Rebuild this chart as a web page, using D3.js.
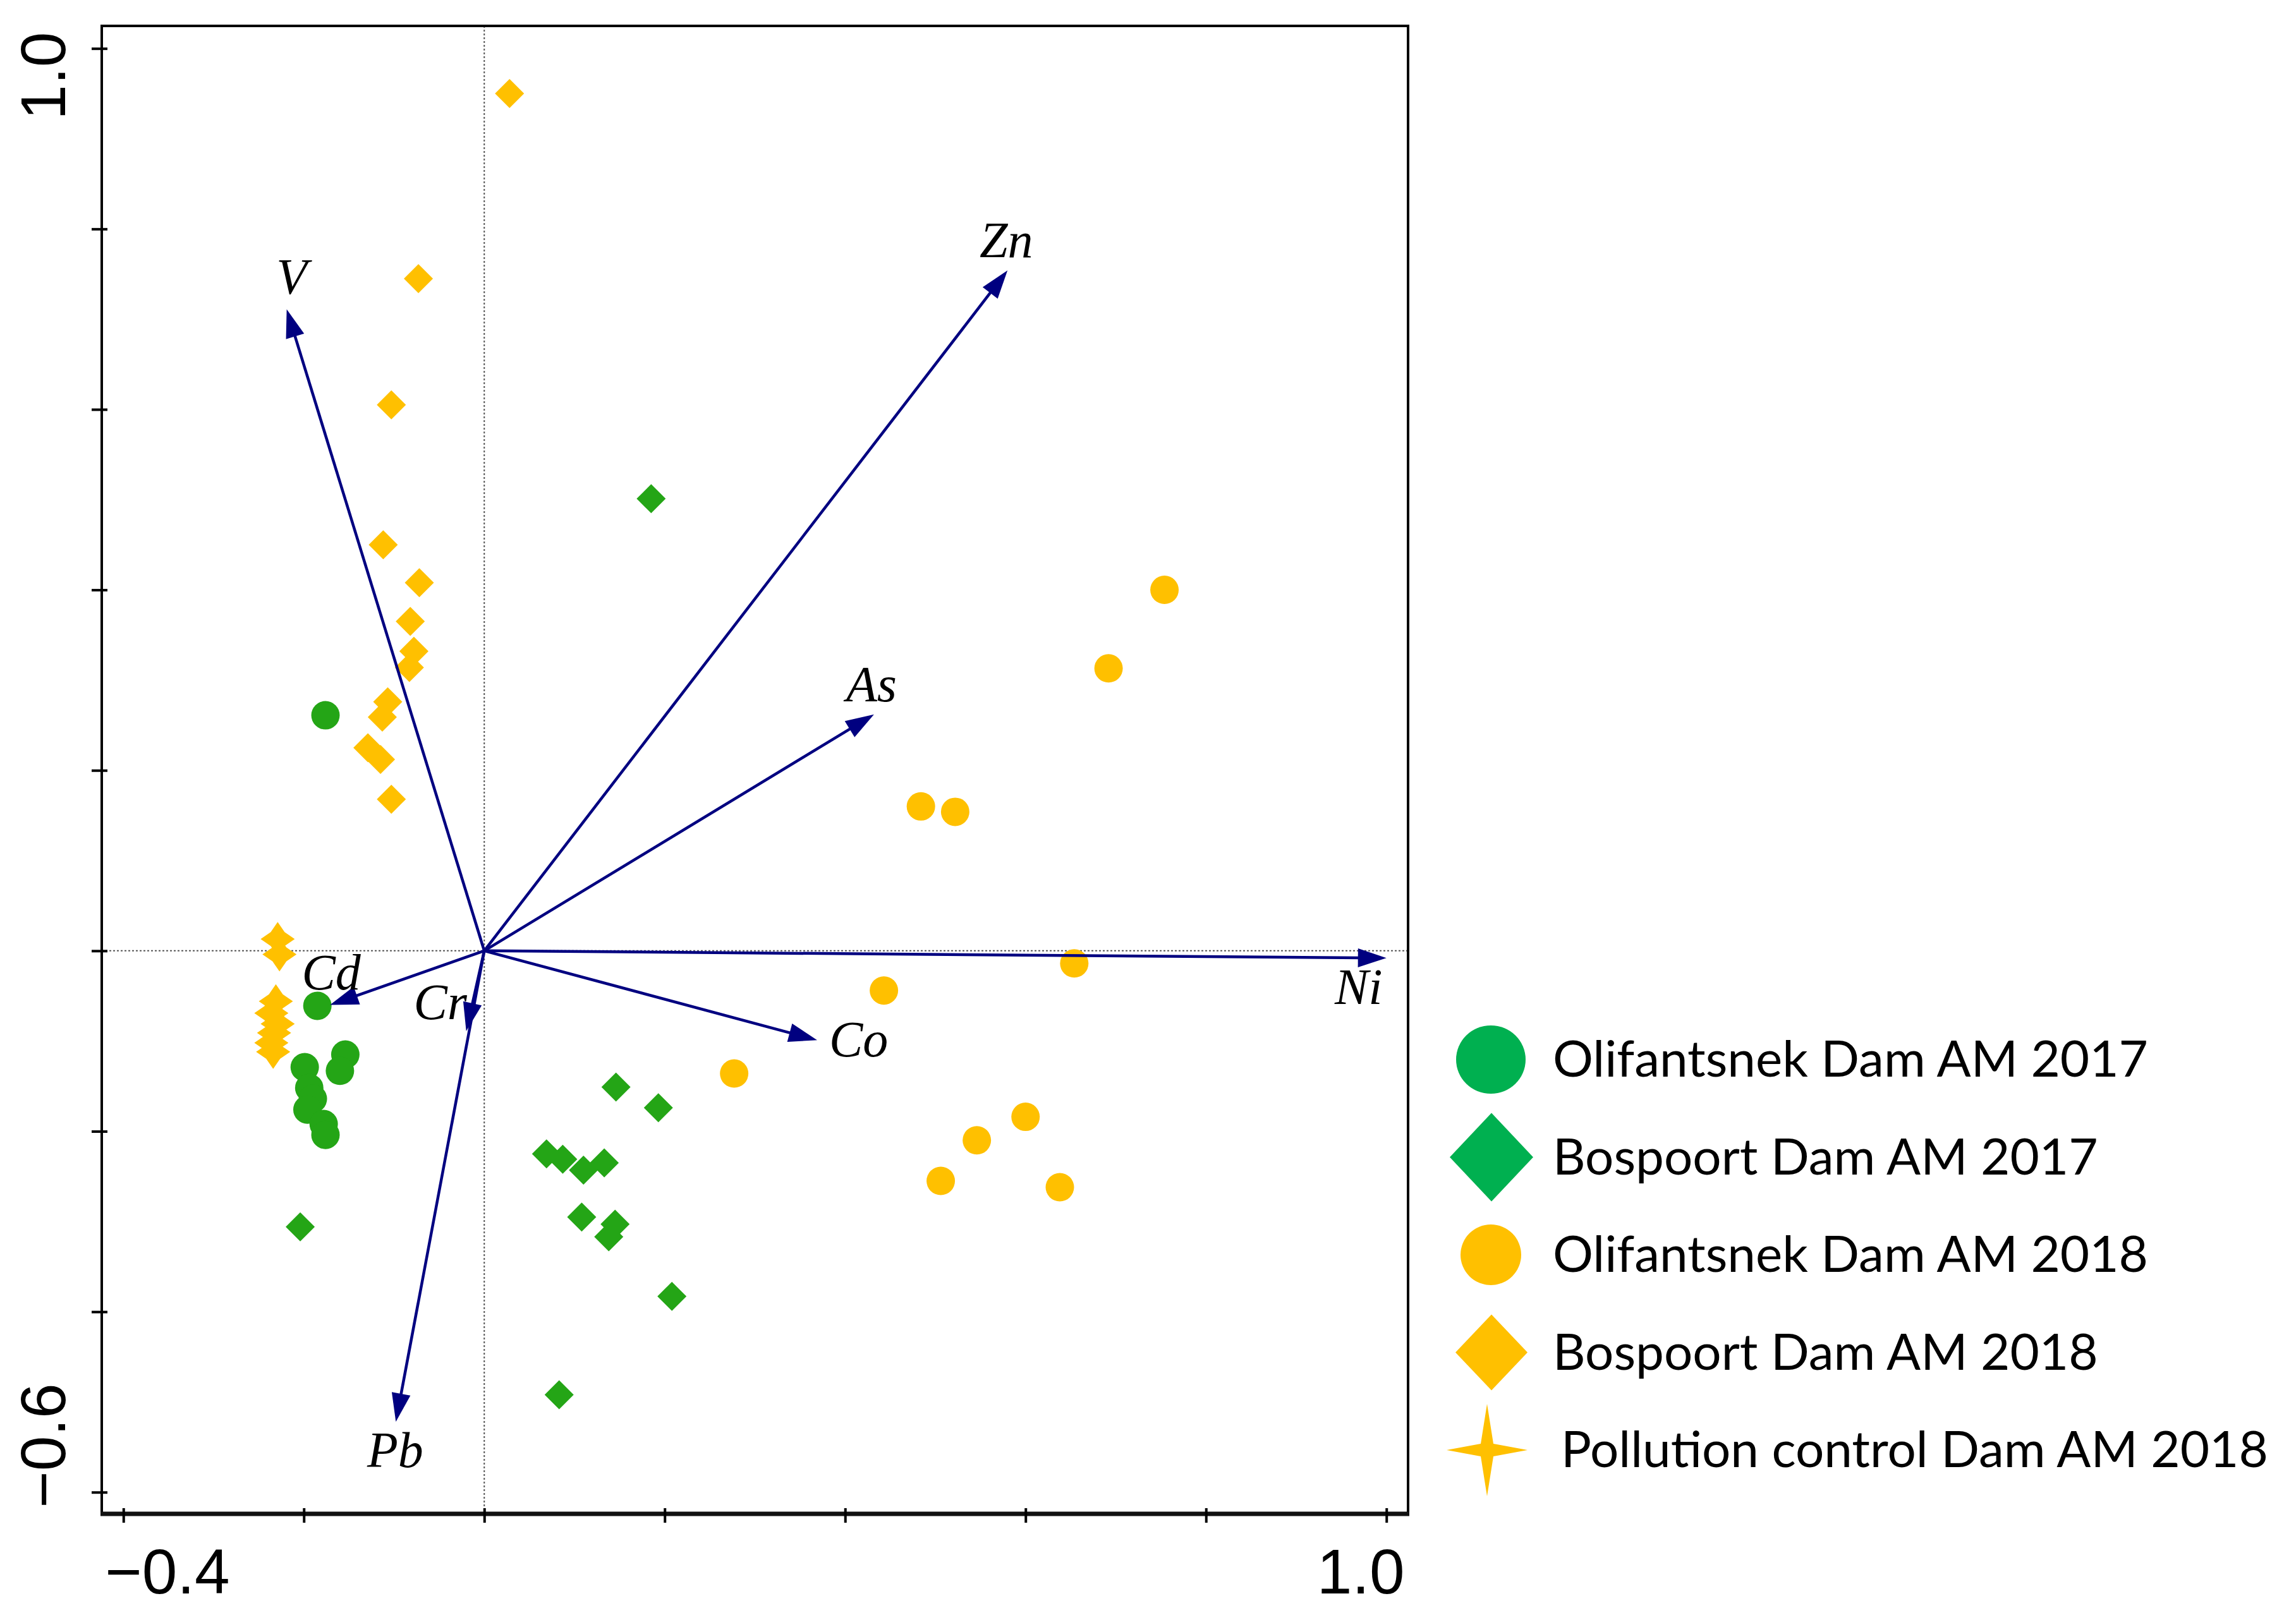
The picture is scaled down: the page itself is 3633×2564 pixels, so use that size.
<!DOCTYPE html>
<html>
<head>
<meta charset="utf-8">
<script src="https://cdn.jsdelivr.net/npm/d3@7"></script>
<style>
  body { margin: 0; background: #fff; }
  svg { display: block; }
</style>
</head>
<body>
<svg id="chart"></svg>
<script>
// ---- data ----
const groupNames = [
    "Olifantsnek Dam AM 2017",
    "Bospoort Dam AM 2017",
    "Olifantsnek Dam AM 2018",
    "Bospoort Dam AM 2018",
    "Pollution control Dam AM 2018",
];

const olifantsnek2017 = [
    [-0.176, 0.261], [-0.185, -0.061], [-0.199, -0.129], [-0.194, -0.152],
    [-0.190, -0.164], [-0.196, -0.176], [-0.178, -0.192], [-0.176, -0.204],
    [-0.154, -0.115], [-0.160, -0.133],
];
const bospoort2017 = [
    [0.185, 0.501], [0.146, -0.151], [0.193, -0.174], [0.069, -0.225],
    [0.087, -0.231], [0.110, -0.243], [0.133, -0.235], [0.108, -0.295],
    [0.145, -0.303], [0.138, -0.317], [0.208, -0.383], [-0.204, -0.306],
    [0.083, -0.492],
];
const olifantsnek2018 = [
    [0.754, 0.400], [0.692, 0.313], [0.484, 0.160], [0.522, 0.154],
    [0.654, -0.014], [0.443, -0.044], [0.277, -0.136], [0.600, -0.184],
    [0.546, -0.210], [0.506, -0.255], [0.638, -0.262],
];
const bospoort2018 = [
    [0.028, 0.950], [-0.073, 0.745], [-0.103, 0.605], [-0.112, 0.450],
    [-0.072, 0.408], [-0.082, 0.365], [-0.078, 0.332], [-0.083, 0.314],
    [-0.107, 0.276], [-0.113, 0.259], [-0.129, 0.225], [-0.115, 0.212],
    [-0.103, 0.168],
];
const pollution2018 = [
    [-0.229, 0.013], [-0.227, -0.004], [-0.231, -0.056], [-0.236, -0.069],
    [-0.229, -0.081], [-0.233, -0.091], [-0.236, -0.102], [-0.234, -0.112],
];

const metals = ["V", "Zn", "As", "Ni", "Co", "Cr", "Cd", "Pb"];
const metalX = [-0.219, 0.580, 0.432, 1.000, 0.369, -0.020, -0.171, -0.098];
const metalY = [0.711, 0.754, 0.262, -0.008, -0.099, -0.089, -0.060, -0.522];

const xTicks = [-0.4, -0.2, 0, 0.2, 0.4, 0.6, 0.8, 1.0];
const yTicks = [1.0, 0.8, 0.6, 0.4, 0.2, 0, -0.2, -0.4, -0.6];
const xTickLabels = ["\u22120.4", "1.0"];
const yTickLabels = ["1.0", "\u22120.6"];

// ---- layout ----
const width = 3633,
    height = 2564;
const frame = { left: 161, right: 2228, top: 41, bottom: 2396 };
const plotGreen = "#24a516",
    legendGreen = "#00b050",
    yellow = "#ffc000",
    navy = "#000080";

// offsets of each vector label from its arrow tip, px
const labelPlace = {
    V: { dx: 8, dy: -24, anchor: "middle" },
    Zn: { dx: -2, dy: -21, anchor: "middle" },
    As: { dx: -4, dy: -21, anchor: "middle" },
    Ni: { dx: -44, dy: 73, anchor: "middle" },
    Co: { dx: 19, dy: 26, anchor: "start" },
    Cr: { dx: -41, dy: -19, anchor: "middle" },
    Cd: { dx: 2, dy: -25, anchor: "middle" },
    Pb: { dx: -1, dy: 72, anchor: "middle" },
};

const svg = d3.select("#chart").attr("width", width).attr("height", height);
svg.append("rect").attr("width", width).attr("height", height).attr("fill", "#fff");

const xScale = d3.scaleLinear().domain([-0.424, 1.024]).range([frame.left, frame.right]);
const yScale = d3.scaleLinear().domain([-0.624, 1.025]).range([frame.bottom, frame.top]);

// shape paths
const diamondPath = (hw, hh) => `M0,${-hh}L${hw},0L0,${hh}L${-hw},0Z`;
const starPath = (hw, hh, r) =>
    `M0,${-hh}L${r},${-r}L${hw},0L${r},${r}L0,${hh}L${-r},${r}L${-hw},0L${-r},${-r}Z`;

// zero lines
const zero = svg.append("g").attr("stroke", "#555").attr("stroke-width", 2).attr("stroke-dasharray", "3,3");
zero.append("line")
    .attr("x1", xScale(0)).attr("x2", xScale(0))
    .attr("y1", frame.top).attr("y2", frame.bottom);
zero.append("line")
    .attr("x1", frame.left).attr("x2", frame.right)
    .attr("y1", yScale(0)).attr("y2", yScale(0));

// points
const pts = svg.append("g");

const drawCircles = (data, color) => {
    pts.selectAll(null)
        .data(data)
        .enter()
        .append("circle")
        .attr("cx", (d) => xScale(d[0]))
        .attr("cy", (d) => yScale(d[1]))
        .attr("r", 22.5)
        .attr("fill", color);
};
const drawShapes = (data, color, path) => {
    pts.selectAll(null)
        .data(data)
        .enter()
        .append("path")
        .attr("d", path)
        .attr("transform", (d) => `translate(${xScale(d[0])},${yScale(d[1])})`)
        .attr("fill", color);
};

drawShapes(bospoort2018, yellow, diamondPath(23, 23));
drawCircles(olifantsnek2018, yellow);
drawShapes(pollution2018, yellow, starPath(27, 27, 11));
drawShapes(bospoort2017, plotGreen, diamondPath(23, 23));
drawCircles(olifantsnek2017, plotGreen);

// vectors
const vec = svg.append("g");
const headLen = 45,
    headW = 15;
metals.forEach((m, i) => {
    const x0 = xScale(0),
        y0 = yScale(0),
        x1 = xScale(metalX[i]),
        y1 = yScale(metalY[i]);
    const len = Math.hypot(x1 - x0, y1 - y0);
    const ux = (x1 - x0) / len,
        uy = (y1 - y0) / len;
    const bx = x1 - ux * headLen,
        by = y1 - uy * headLen;
    vec.append("line")
        .attr("x1", x0).attr("y1", y0)
        .attr("x2", bx + ux * 5).attr("y2", by + uy * 5)
        .attr("stroke", navy)
        .attr("stroke-width", 4.5);
    vec.append("path")
        .attr("d", `M${x1},${y1}L${bx - uy * headW},${by + ux * headW}L${bx + uy * headW},${by - ux * headW}Z`)
        .attr("fill", navy);
    const p = labelPlace[m];
    vec.append("text")
        .attr("x", x1 + p.dx)
        .attr("y", y1 + p.dy)
        .attr("text-anchor", p.anchor)
        .attr("font-family", "'Liberation Serif', 'Times New Roman', serif")
        .attr("font-style", "italic")
        .attr("font-size", 80)
        .attr("fill", "#000")
        .text(m);
});

// frame and axes
svg.append("rect")
    .attr("x", frame.left).attr("y", frame.top)
    .attr("width", frame.right - frame.left)
    .attr("height", frame.bottom - frame.top)
    .attr("fill", "none")
    .attr("stroke", "#000")
    .attr("stroke-width", 4);
svg.append("line")
    .attr("x1", frame.left - 2).attr("x2", frame.right + 2)
    .attr("y1", frame.bottom).attr("y2", frame.bottom)
    .attr("stroke", "#111")
    .attr("stroke-width", 7);

const xAxis = d3.axisBottom(xScale).tickValues(xTicks).tickSize(23).tickFormat("");
const yAxis = d3.axisLeft(yScale).tickValues(yTicks).tickSize(25).tickFormat("");

svg.append("g")
    .attr("transform", `translate(0, ${frame.bottom - 9})`)
    .call(xAxis)
    .call((g) => g.select(".domain").remove())
    .call((g) => g.selectAll("line").attr("stroke", "#000").attr("stroke-width", 4));

svg.append("g")
    .attr("transform", `translate(${frame.left + 9}, 0)`)
    .call(yAxis)
    .call((g) => g.select(".domain").remove())
    .call((g) => g.selectAll("line").attr("stroke", "#000").attr("stroke-width", 4));

const tickFont = "'Liberation Sans', Arial, sans-serif";
svg.append("text")
    .attr("x", xScale(-0.4) - 29)
    .attr("y", 2522)
    .attr("font-family", tickFont)
    .attr("font-size", 100)
    .attr("text-anchor", "start")
    .text(xTickLabels[0]);
svg.append("text")
    .attr("x", xScale(1.0) + 29)
    .attr("y", 2522)
    .attr("font-family", tickFont)
    .attr("font-size", 100)
    .attr("text-anchor", "end")
    .text(xTickLabels[1]);
svg.append("text")
    .attr("transform", `translate(103, ${yScale(1.0) - 26}) rotate(-90)`)
    .attr("font-family", tickFont)
    .attr("font-size", 100)
    .attr("text-anchor", "end")
    .text(yTickLabels[0]);
svg.append("text")
    .attr("transform", `translate(103, ${yScale(-0.6) + 25}) rotate(-90)`)
    .attr("font-family", tickFont)
    .attr("font-size", 100)
    .attr("text-anchor", "start")
    .text(yTickLabels[1]);

// legend
const legendSymbols = [
    (g) => g.append("ellipse").attr("rx", 55).attr("ry", 54).attr("fill", legendGreen),
    (g) => g.append("path").attr("d", diamondPath(66, 70)).attr("fill", legendGreen),
    (g) => g.append("ellipse").attr("rx", 48).attr("ry", 48).attr("fill", yellow),
    (g) => g.append("path").attr("d", diamondPath(57, 60)).attr("fill", yellow),
    (g) => g.append("path").attr("d", starPath(64, 73, 10)).attr("fill", yellow),
];
const legendSymbolX = [2359, 2360, 2359, 2360, 2353];
const legendTextX = [2457, 2457, 2457, 2457, 2470];
const legend = svg.append("g");
groupNames.forEach((name, i) => {
    const base = 1704 + i * 154.5;
    const s = legend.append("g").attr("transform", `translate(${legendSymbolX[i]}, ${base - 27})`);
    legendSymbols[i](s);
    legend.append("text")
        .attr("x", legendTextX[i])
        .attr("y", base)
        .attr("font-family", "Lato, 'Open Sans', sans-serif")
        .attr("font-size", 80)
        .attr("fill", "#000")
        .text(name);
});
</script>
</body>
</html>
